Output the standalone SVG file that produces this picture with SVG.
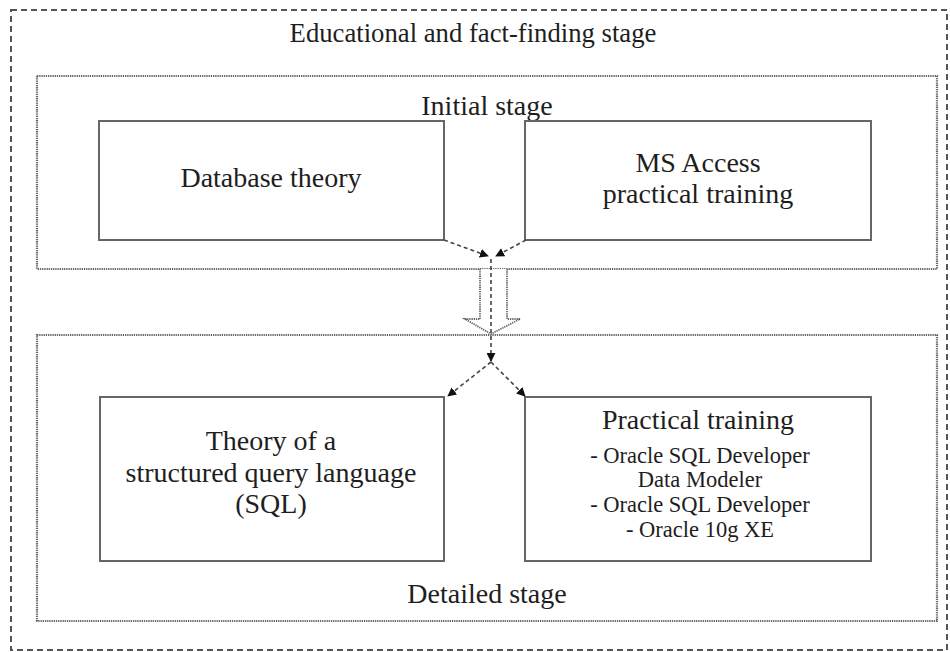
<svg xmlns="http://www.w3.org/2000/svg" width="950" height="652" viewBox="0 0 950 652">
<style>
text{font-family:"Liberation Serif","Times New Roman",serif;fill:#1e1e1e;text-anchor:middle}
.outer{fill:none;stroke:#555;stroke-width:2;stroke-dasharray:6 4}
.stage{fill:none;stroke:#666;stroke-width:2.2;stroke-dasharray:1.3 0.9}
.node{fill:#fff;stroke:#666;stroke-width:2}
.conn{fill:none;stroke:#444;stroke-width:1.6;stroke-dasharray:4 3}
.big{fill:#fff;stroke:#666;stroke-width:1.8;stroke-dasharray:1.3 0.9}
.t28{font-size:28px}
.t22{font-size:22.5px}
</style>
<defs>
<marker id="ah" viewBox="0 0 10 10" refX="9" refY="5" markerWidth="9" markerHeight="9" markerUnits="userSpaceOnUse" orient="auto">
<path d="M0,0 L10,5 L0,10 z" fill="#111"/>
</marker>
</defs>
<rect width="950" height="652" fill="#fff"/>
<g id="outer-stage">
<rect class="outer" x="11" y="10" width="936" height="640"/>
<text x="473" y="42" style="font-size:26.7px">Educational and fact-finding stage</text>
</g>
<g id="initial-stage">
<rect class="stage" x="37" y="76" width="900" height="193"/>
<text class="t28" x="487" y="115">Initial stage</text>
</g>
<g id="detailed-stage">
<rect class="stage" x="37" y="335" width="900" height="286"/>
<text class="t28" x="487" y="603">Detailed stage</text>
</g>
<g id="transition-arrow">
<path class="big" d="M480,269 L480,319 L465,319 L491,334 L520,319 L507,319 L507,269"/>
</g>
<g id="database-theory">
<rect class="node" x="99" y="121" width="345" height="119"/>
<text class="t28" x="271" y="187">Database theory</text>
</g>
<g id="ms-access">
<rect class="node" x="525" y="121" width="346" height="119"/>
<text class="t28" x="698" y="172">MS Access</text>
<text class="t28" x="698" y="203">practical training</text>
</g>
<g id="sql-theory">
<rect class="node" x="100" y="397" width="344" height="164"/>
<text class="t28" x="271" y="450">Theory of a</text>
<text class="t28" x="271" y="482">structured query language</text>
<text class="t28" x="271" y="513">(SQL)</text>
</g>
<g id="practical-training">
<rect class="node" x="525" y="397" width="346" height="164"/>
<text class="t28" x="698" y="429">Practical training</text>
<text class="t22" x="700" y="463">- Oracle SQL Developer</text>
<text class="t22" x="700" y="487">Data Modeler</text>
<text class="t22" x="700" y="512">- Oracle SQL Developer</text>
<text class="t22" x="700" y="537">- Oracle 10g XE</text>
</g>
<g id="connectors">
<line class="conn" x1="444" y1="240" x2="488" y2="256" marker-end="url(#ah)"/>
<line class="conn" x1="526" y1="240" x2="496" y2="256" marker-end="url(#ah)"/>
<line class="conn" x1="491" y1="259" x2="491" y2="361" marker-end="url(#ah)"/>
<line class="conn" x1="491" y1="362" x2="448" y2="396" marker-end="url(#ah)"/>
<line class="conn" x1="491" y1="362" x2="525" y2="396" marker-end="url(#ah)"/>
</g>
</svg>
